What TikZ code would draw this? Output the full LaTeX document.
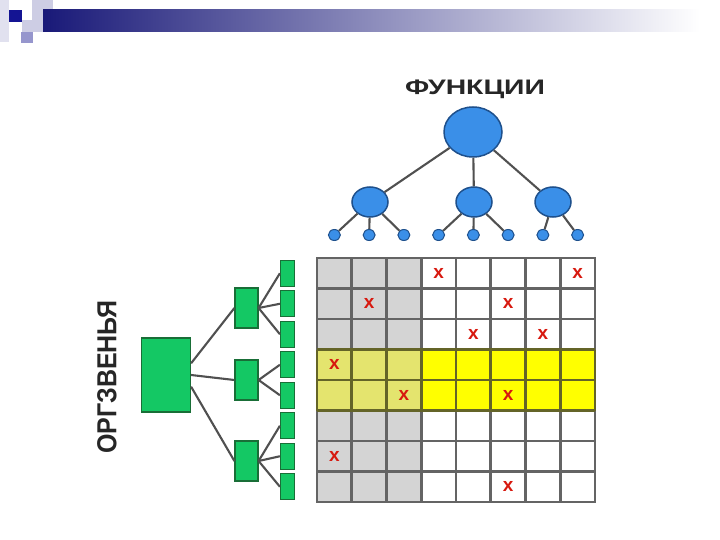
\documentclass[tikz,border=0pt]{standalone}
\usepackage{fontspec}
\setmainfont{Liberation Sans}
\usepackage{tikz}
\usetikzlibrary{shapes.geometric, positioning}
\usepackage{xcolor}
\definecolor{funcBlue}{RGB}{58,143,232}
\definecolor{funcEdge}{RGB}{30,80,140}
\definecolor{orgGreen}{RGB}{20,200,100}
\definecolor{orgEdge}{RGB}{25,110,55}
\definecolor{linkGray}{RGB}{80,80,80}
\definecolor{cellGray}{RGB}{212,212,212}
\definecolor{gridGray}{RGB}{100,100,100}
\definecolor{bandYellow}{RGB}{255,255,0}
\definecolor{bandOlive}{RGB}{228,228,110}
\definecolor{bandLine}{RGB}{100,100,40}
\definecolor{markRed}{RGB}{215,25,15}
\definecolor{barNavy}{RGB}{25,25,120}
\definecolor{sqLight}{RGB}{205,205,228}
\definecolor{sqMid}{RGB}{150,150,205}

\begin{document}
\begin{tikzpicture}[x=1pt, y=-1pt,
  fbig/.style={ellipse, draw=funcEdge, fill=funcBlue, line width=1.5pt,
    minimum width=58pt, minimum height=50pt, inner sep=0pt},
  fmid/.style={fbig, minimum width=36pt, minimum height=30pt},
  fsmall/.style={fbig, line width=1pt, minimum width=12pt, minimum height=11pt},
  obox/.style={rectangle, draw=orgEdge, fill=orgGreen, line width=1.2pt,
    minimum width=#1, inner sep=0pt},
  link/.style={draw=linkGray, line width=2.1pt},
  gridline/.style={draw=gridGray, line width=2.8pt, line cap=rect},
  bandline/.style={draw=bandLine, line width=2.8pt},
  xmark/.style={font=\fontsize{19}{19}\selectfont\bfseries, text=markRed, inner sep=0pt},
  heading/.style={font=\fontsize{21}{21}\selectfont\bfseries, text=black!85}
]
  \useasboundingbox (0,0) rectangle (720,540);

  % header decoration
  \fill[sqLight!60!white] (0,0) rectangle (9,42);
  \fill[sqLight] (32,0) rectangle (53,22);
  \fill[sqLight] (22,20) rectangle (43,32);
  \fill[sqMid] (21,32) rectangle (33,43);
  \shade[left color=barNavy, right color=white] (43,10) rectangle (700,32);
  \fill[barNavy!80!blue] (9,10) rectangle (22,22);

  % matrix
  \fill[cellGray] (317,258) rectangle (421.25,502);
  \fill[bandOlive] (317,349.5) rectangle (421.25,410.5);
  \fill[bandYellow] (421.25,349.5) rectangle (595,410.5);
  \foreach \i in {0,...,8} {
    \draw[gridline] ({317+34.75*\i},258) -- ({317+34.75*\i},502);
    \draw[gridline] (317,{258+30.5*\i}) -- (595,{258+30.5*\i});
  }
  \foreach \i in {0,...,8}
    \draw[bandline] ({317+34.75*\i},349.5) -- ({317+34.75*\i},410.5);
  \foreach \i in {3,4,5}
    \draw[bandline] (317,{258+30.5*\i}) -- (595,{258+30.5*\i});

  \foreach \r/\c in {1/4,1/8,2/2,2/6,3/5,3/7,4/1,5/3,5/6,7/1,8/6}
    \node[xmark] (x\r\c) at ({317+34.75*(\c-0.5)},{258+30.5*(\r-0.5)}) {x};

  % functions
  \node[heading, xscale=1.35] (title) at (475,89) {ФУНКЦИИ};
  \node[fbig] (fun) at (473,132) {};
  \node[fmid] (fa) at (370,202) {};
  \node[fmid] (fb) at (474,202) {};
  \node[fmid] (fc) at (553,202) {};
  \foreach \c in {1,...,8}
    \node[fsmall] (f\c) at ({317+34.75*(\c-0.5)},235) {};

  \foreach \m in {fa,fb,fc}
    \draw[link] (fun) -- (\m);
  \foreach \c in {1,2,3}
    \draw[link] (fa) -- (f\c);
  \foreach \c in {4,5,6}
    \draw[link] (fb) -- (f\c);
  \foreach \c in {7,8}
    \draw[link] (fc) -- (f\c);

  % org units
  \node[heading, font=\fontsize{25}{25}\selectfont\bfseries, rotate=90, yscale=1.1]
    (orglabel) at (107,377) {ОРГЗВЕНЬЯ};
  \node[obox=49pt, minimum height=74pt] (org) at (166,375) {};
  \node[obox=23pt, minimum height=40pt] (m1) at (246.5,308) {};
  \node[obox=23pt, minimum height=40pt] (m2) at (246.5,380) {};
  \node[obox=23pt, minimum height=40pt] (m3) at (246.5,461) {};
  \foreach \r in {1,...,8}
    \node[obox=14pt, minimum height=26pt] (s\r) at (287.5,{258+30.5*(\r-0.5)}) {};

  \draw[link] (org.25) -- (m1.west);
  \draw[link] (org.east) -- (m2.west);
  \draw[link] (org.-25) -- (m3.west);
  \foreach \r in {1,2,3}
    \draw[link] (m1.east) -- (s\r.west);
  \foreach \r in {4,5}
    \draw[link] (m2.east) -- (s\r.west);
  \foreach \r in {6,7,8}
    \draw[link] (m3.east) -- (s\r.west);
\end{tikzpicture}
\end{document}
